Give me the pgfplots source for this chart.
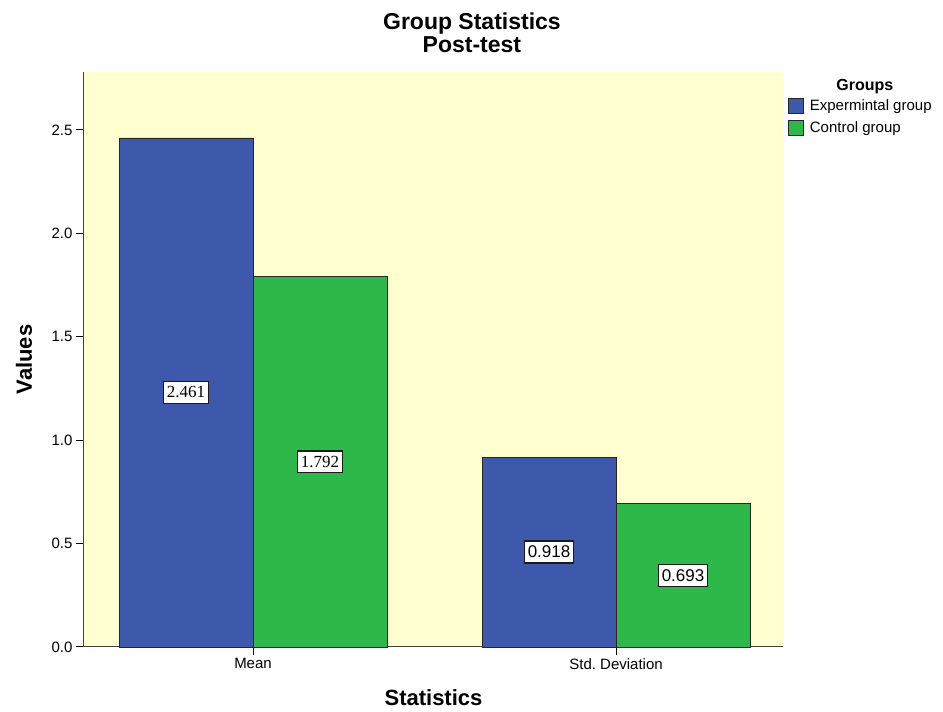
\documentclass[border=0pt]{standalone}
\usepackage{pgfplots}
\pgfplotsset{compat=1.18}
\usepackage{fontspec}
\setmainfont{Liberation Sans}
\newfontfamily\labelserif{Liberation Serif}

\definecolor{spssblue}{RGB}{62,88,172}
\definecolor{spssgreen}{RGB}{46,184,75}
\definecolor{spssbg}{RGB}{255,255,208}

\begin{document}
\frenchspacing
\begin{tikzpicture}
\useasboundingbox (0,0) rectangle (943pt,712pt);
\begin{axis}[
    at={(84pt,65pt)}, anchor=south west,
    scale only axis, width=699pt, height=575pt,
    clip=false,
    ybar=0pt, bar width=134pt,
    xmin=-0.4656, xmax=1.46, ymin=0, ymax=2.78,
    axis x line=bottom, axis y line=left,
    axis line style={-, black!75, line width=1pt},
    axis background/.style={fill=spssbg},
    xtick={0,1}, xticklabels={Mean,Std.\ Deviation},
    ytick={0,0.5,1,1.5,2,2.5},
    yticklabel style={/pgf/number format/fixed, /pgf/number format/fixed zerofill, /pgf/number format/precision=1},
    /pgf/number format/assume math mode=true,
    tick align=outside, major tick length=8pt,
    tick style={black, line width=1pt},
    ticklabel style={font=\fontsize{15}{16}\selectfont},
    title={Group Statistics\\Post-test},
    title style={at={(axis description cs:0.555,1.0226)}, anchor=south, inner sep=0pt, align=center, font=\bfseries\fontsize{23}{23}\selectfont},
    xlabel={Statistics},
    xlabel style={at={(axis description cs:0.5,-0.1009)}, anchor=base, font=\bfseries\fontsize{22}{22}\selectfont},
    ylabel={Values},
    ylabel style={at={(axis description cs:-0.0744,0.5)}, anchor=base, font=\bfseries\fontsize{22}{22}\selectfont},
    % value labels sit in the middle of each bar
    visualization depends on={y \as \rawy},
    visualization depends on={value \coordindex \as \idx},
    nodes near coords={\ifnum\idx=0 \labelserif\fi\pgfmathprintnumber[fixed,fixed zerofill,precision=3]{\pgfplotspointmeta}},
    every node near coord/.append style={anchor=center, fill=white, draw=black!90, line width=1.2pt, inner xsep=3pt, inner ysep=5pt, text=black, font=\fontsize{17}{17}\selectfont, shift={(axis direction cs:0,-0.5*\rawy)}},
    legend style={at={(axis description cs:1.007,0.955)}, anchor=north west, draw=none, fill=none, font=\fontsize{15}{16}\selectfont, row sep=5pt, inner sep=0pt, /tikz/every odd column/.append style={column sep=4pt}},
    legend image code/.code={\draw[#1] (0pt,-7.5pt) rectangle (15pt,7.5pt);},
    legend cell align=left,
]

% Experimental group (blue)
\addplot[fill=spssblue, draw=black!85, line width=0.8pt] coordinates {
    (0, 2.461)
    (1, 0.918)
};
\addlegendentry{Expermintal group}

% Control group (green)
\addplot[fill=spssgreen, draw=black!85, line width=0.8pt] coordinates {
    (0, 1.792)
    (1, 0.693)
};
\addlegendentry{Control group}

\node[font=\bfseries\fontsize{16}{16}\selectfont, anchor=base] at (axis description cs:1.117,0.967) {Groups};

\end{axis}
\end{tikzpicture}
\end{document}
